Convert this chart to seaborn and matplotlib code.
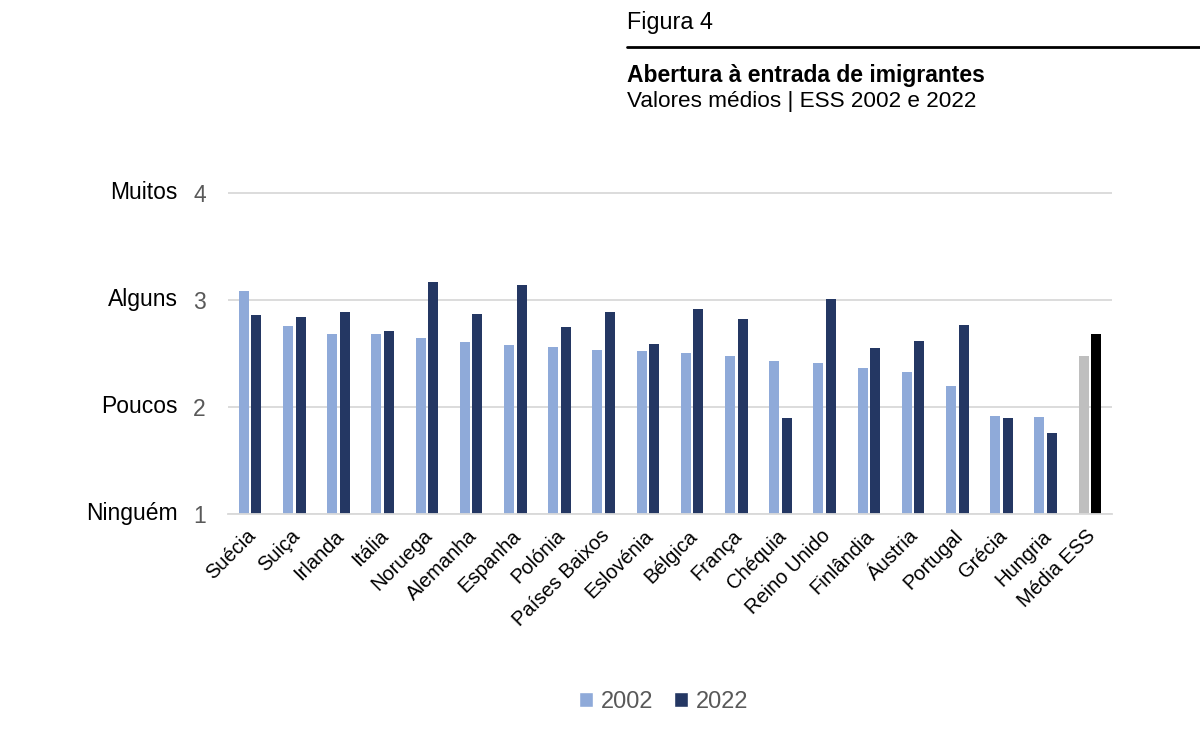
import pandas as pd
import numpy as np
import matplotlib
matplotlib.use("Agg")
import matplotlib.pyplot as plt
import matplotlib.transforms as mtransforms
import seaborn as sns
from matplotlib.patches import Patch

# values (mean scores, 1 = Ninguém ... 4 = Muitos)
paises = ["Suécia", "Suiça", "Irlanda", "Itália", "Noruega", "Alemanha", "Espanha",
          "Polónia", "Países Baixos", "Eslovénia", "Bélgica", "França", "Chéquia",
          "Reino Unido", "Finlândia", "Áustria", "Portugal", "Grécia", "Hungria", "Média ESS"]
v2002 = [3.08, 2.76, 2.68, 2.68, 2.64, 2.61, 2.58, 2.56, 2.53, 2.52,
         2.50, 2.48, 2.43, 2.41, 2.36, 2.33, 2.20, 1.92, 1.91, 2.48]
v2022 = [2.86, 2.84, 2.89, 2.71, 3.17, 2.87, 3.14, 2.75, 2.89, 2.59,
         2.92, 2.82, 1.90, 3.01, 2.55, 2.62, 2.77, 1.90, 1.76, 2.68]
anos = ["2002", "2022"]
escala = ["Ninguém", "Poucos", "Alguns", "Muitos"]

cores = {"2002": "#8faad9", "2022": "#243763"}
cores_media = ["#bfbfbf", "#000000"]

df = pd.DataFrame({
    "pais": paises * 2,
    "ano": ["2002"] * len(paises) + ["2022"] * len(paises),
    "valor": v2002 + v2022,
})

sns.set_style("white")
plt.rcParams["font.family"] = ["Liberation Sans", "DejaVu Sans"]
plt.rcParams["text.color"] = "black"

fig = plt.figure(figsize=(12, 7.39), dpi=100)
ax = fig.add_axes([0.19, 0.3045, 0.7367, 0.4416])

sns.barplot(data=df, x="pais", y="valor", hue="ano", hue_order=anos, palette=cores,
            width=0.57, gap=0.2, legend=False, ax=ax, saturation=1, linewidth=0)

# the ESS average gets its own grey/black pair
for cont, cor in zip(ax.containers, cores_media):
    cont.patches[-1].set_facecolor(cor)

ax.set_ylim(1, 4.05)
ax.set_xlim(-0.5, len(paises) - 0.5)
ax.set_yticks([1, 2, 3, 4])
ax.set_yticklabels(["1", "2", "3", "4"], fontsize=16.5, color="#595959")
ax.tick_params(axis="y", length=0, pad=16)
ax.tick_params(axis="x", length=0, pad=6)
ax.set_xticks(range(len(paises)))
ax.set_xticklabels(paises, rotation=45, ha="right", rotation_mode="anchor",
                   fontsize=14.5, color="#000000")
shift = mtransforms.ScaledTranslation(-4 / 100, -4 / 100, fig.dpi_scale_trans)
for lab in ax.get_xticklabels():
    lab.set_transform(lab.get_transform() + shift)
ax.yaxis.grid(True, color="#d9d9d9", linewidth=1.3)
ax.set_axisbelow(True)
for s in ["top", "right", "left"]:
    ax.spines[s].set_visible(False)
ax.spines["bottom"].set_color("#d9d9d9")
ax.spines["bottom"].set_linewidth(1.3)
ax.set_xlabel("")
ax.set_ylabel("")

for i, nome in enumerate(escala):
    ax.annotate(nome, xy=(0, i + 1), xycoords=("axes fraction", "data"),
                xytext=(-36, 0), textcoords="offset points",
                ha="right", va="center", fontsize=16.5, color="#000000")

# legend under the chart
handles = [Patch(facecolor=cores[a], label=a) for a in anos]
fig.legend(handles=handles, loc="center", bbox_to_anchor=(0.553, 0.05), ncol=2,
           frameon=False, fontsize=17, handlelength=0.6, handleheight=0.6,
           handletextpad=0.3, columnspacing=0.9, labelcolor="#595959")

# header block
fig.text(0.5225, 0.97, "Figura 4", fontsize=16.8, va="center", ha="left", color="black")
fig.add_artist(plt.Line2D([0.5225, 1.0], [0.936, 0.936], color="black", linewidth=2))
fig.text(0.5225, 0.898, "Abertura à entrada de imigrantes", fontsize=16.5,
         fontweight="bold", va="center", ha="left", color="black")
fig.text(0.5225, 0.863, "Valores médios | ESS 2002 e 2022", fontsize=16.2,
         va="center", ha="left", color="black")

fig.savefig("out.png", dpi=100)
